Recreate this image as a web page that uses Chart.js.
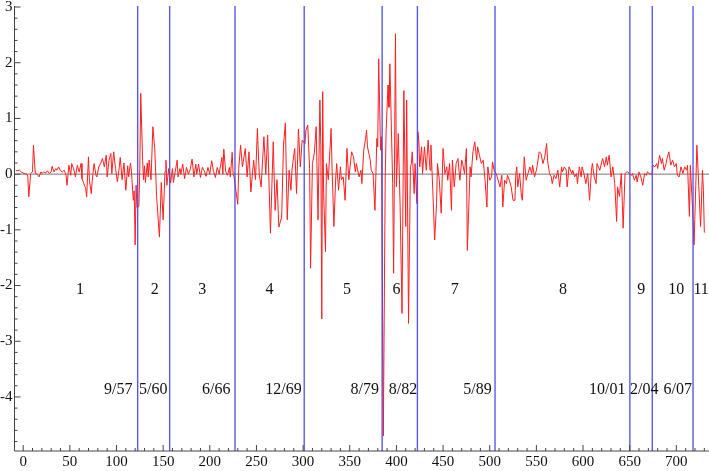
<!DOCTYPE html>
<html lang="en">
<head>
    <meta charset="UTF-8">
    <title>Growth series with breaks</title>
    <script src="https://cdn.jsdelivr.net/npm/chart.js"></script>
    <style>
        body { margin: 0; background: #fff; }
        canvas { display: block; }
    </style>
</head>
<body>
    <canvas id="growthChart" width="709" height="471"></canvas>

    <script>
        // month index (x) and value (y)
        const monthIdx = [
            -8,-6,-4,-2,1,4,5,6,8,10,11,13,15,17,19,20,22,24,26,28,30,31,33,35,36,38,40,42,44,46,47,49,51,52,54,56,58,60,62,63,65,67,68,70,71,73,74,76,78,79,81,83,85,87,89,90,92,94,95,97,99,
            101,103,104,106,108,110,112,113,115,116,118,119,120,121,122,124,125,126,128,129,130,131,133,134,135,137,139,141,143,146,148,150,152,153,154,156,158,160,161,163,165,166,168,169,171,173,175,177,179,181,183,185,186,188,190,192,194,196,198,200,
            202,204,206,208,210,211,213,214,215,217,219,221,222,224,225,226,228,230,231,233,235,238,240,242,244,247,249,251,253,255,258,260,262,265,268,270,272,274,277,279,281,283,285,287,288,291,293,295,297,299,
            302,303,305,307,308,310,312,314,316,318,319,320,321,322,324,325,327,330,331,333,335,336,338,340,341,343,345,347,349,351,352,354,356,357,360,362,363,365,367,368,369,372,373,375,377,379,380,381,383,384,386,388,389,391,392,393,396,397,399,400,
            402,404,406,408,410,411,413,415,416,417,419,420,422,423,424,425,427,428,430,432,434,436,437,439,441,443,444,446,448,450,452,454,455,457,459,460,462,464,466,468,470,471,473,475,476,479,480,482,484,486,487,489,491,493,495,497,498,500,
            502,503,505,507,509,511,513,514,516,518,519,521,523,525,527,528,529,530,532,534,535,537,539,541,543,545,546,548,550,551,553,555,557,559,561,562,564,566,567,569,571,573,575,577,578,580,582,583,585,588,589,591,593,594,596,598,599,
            601,603,605,607,609,610,612,614,615,618,620,621,623,625,626,628,630,632,634,636,637,639,641,642,643,645,647,648,650,652,653,655,657,658,660,662,664,666,668,669,671,674,675,677,679,680,682,684,685,687,689,690,692,694,696,698,700,
            701,703,705,707,709,711,712,714,715,717,719,721,722,724,726,728,729,730
        ];
        const growth = [
            0.07,0.06,0.07,0.04,0.01,0,-0.05,-0.41,0.01,0.04,0.52,0.01,0,-0.05,0.04,0.01,0.04,0.02,0.06,0.01,0.04,0.14,0.04,0.1,0.07,0.13,0.06,0.04,0.07,-0.02,-0.2,0.16,-0.02,0.19,0.1,-0.05,0.16,0.04,0.19,-0.08,-0.17,-0.26,-0.41,0.31,-0.11,-0.35,-0.11,0.19,-0.02,-0.05,0.13,0.19,0.28,0.13,0.34,-0.05,0.25,0.37,0.01,0.4,0.1,
            -0.14,0.13,0.3,-0.1,0.2,-0.29,0.15,-0.05,0.2,0.05,-0.47,-0.3,-1.27,-0.2,-0.6,-0.58,0.1,1.45,0.25,-0.1,0.15,-0.15,0.2,-0.05,0.25,-0.1,0.85,0.46,-0.4,-1.13,-0.15,-0.82,0.05,0.25,-0.2,0.1,-0.16,0.1,-0.15,0.05,0.25,-0.05,0.1,0,0.18,-0.08,0.12,0,0.08,0.27,-0.05,0.18,0,0.18,-0.06,0.12,0.06,-0.04,0.12,0,
            0.24,0.05,-0.06,0.12,0,0.1,0.3,0,0.45,0.05,-0.02,0.12,-0.05,0.39,0,-0.05,-0.3,-0.54,0.1,0.52,0.13,0.46,-0.05,0.4,-0.32,0.25,-0.1,0.82,0,-0.23,0.67,0,0.7,-1.06,0.58,-0.65,-0.1,-0.95,-0.77,0.52,0.92,-0.82,0.07,-0.29,0.07,0.46,-0.35,0.81,0.13,0.61,
            0.55,0.79,0.88,0.1,-1.69,0.19,0.37,0.85,-0.82,1.33,0.5,-2.6,1.48,-0.35,-1.39,0.19,-0.1,0.82,0.13,-0.94,-0.05,0.19,-0.29,0.13,-0.1,-0.05,-0.47,0.46,-0.1,0.25,0.4,0.31,0.04,0.19,-0.05,0.07,-0.17,0.43,0.64,0.79,0.49,0.25,0.07,0.01,-0.65,0.64,0.49,2.07,0.43,0.67,-4.7,-0.05,0.79,1.6,1.2,1.98,-0.17,-1.78,2.52,-0.23,
            0.73,-0.59,-2.5,1.5,-0.94,1.33,-2.68,0.13,0.19,0.4,-0.35,0.19,-0.53,0.76,0.61,0.13,0.49,0.01,0.49,0.07,0.61,0.07,0.52,-0.29,-1.18,-0.53,0.19,-0.11,-0.7,0.46,0.01,0.13,-0.11,0.19,-0.65,0.25,-0.23,0.19,0.28,-0.11,0.25,0.19,0.01,0.46,-1.37,0.13,-0.05,0.4,0.58,0.25,0.49,0.34,0.19,0.25,-0.11,-0.59,0.13,-0.11,
            -0.05,0.22,0.05,0.01,-0.11,-0.23,-0.02,-0.59,-0.11,-0.17,-0.02,-0.11,-0.23,-0.47,-0.47,0.01,0.13,-0.23,0.01,-0.4,-0.47,0.31,-0.11,0.01,0.13,0.01,0.16,-0.05,0.07,0.16,0.4,0.37,0.19,0.31,0.55,0.25,0.01,-0.05,-0.17,-0.02,-0.08,0.07,-0.23,0.13,0.04,0.13,0.07,-0.23,0.13,0.01,0.07,-0.05,0.01,-0.17,0.13,-0.05,0.13,
            0.01,-0.17,0.01,-0.47,0.07,0.19,-0.05,-0.17,0.19,0.07,0.22,0.28,0.13,0.31,0.16,0.34,-0.05,0.13,-0.17,-0.85,-0.23,-0.4,0.01,-0.47,-0.97,0.01,0.04,0.04,0,-0.02,0.01,-0.11,-0.02,-0.14,0.04,-0.05,-0.2,0.01,-0.02,0.04,0.01,0,0.16,0.13,0.19,0.1,0.34,0.19,0.28,0.07,0.19,0.28,0.4,0.16,0.25,0.13,0.19,
            -0.02,-0.05,0.13,0.01,0.13,0.07,0.16,-0.76,0.16,-0.5,-1.27,-0.11,0.52,-0.2,-0.94,0.07,-0.29,-1.05
        ];

        // break dates (vertical lines) and labels
        const breakX = [122.7, 157, 227, 301.2, 384.7, 422.5, 505.7, 650.2, 674.2, 717.9];
        const regimeLabels = ["1","2","3","4","5","6","7","8","9","10","11"];
        const regimeX = [61, 141, 192, 264, 347, 400, 462.5, 578.5, 662.4, 700, 726.6];
        const dateLabels = ["9/57","5/60","6/66","12/69","8/79","8/82","5/89","10/01","2/04","6/07"];
        const dateX = [101.9, 139.5, 207, 279, 366, 407, 487, 626, 665.6, 701.5];
        const xTicks = [0,50,100,150,200,250,300,350,400,450,500,550,600,650,700];
        const yTicks = [-4,-3,-2,-1,0,1,2,3];

        const points = monthIdx.map((m, i) => ({ x: m, y: growth[i] }));

        const decorPlugin = {
            id: "decor",
            beforeDatasetsDraw(chart) {
                const { ctx, chartArea, scales } = chart;
                const y0 = scales.y.getPixelForValue(0);
                ctx.save();
                ctx.strokeStyle = "#777";
                ctx.lineWidth = 1;
                ctx.beginPath();
                ctx.moveTo(chartArea.left, y0);
                ctx.lineTo(chartArea.right, y0);
                ctx.stroke();
                ctx.restore();
            },
            afterDatasetsDraw(chart) {
                const { ctx, chartArea, scales } = chart;
                const xs = scales.x, ys = scales.y;
                ctx.save();

                // break lines
                ctx.strokeStyle = "rgba(70,70,235,0.9)";
                ctx.lineWidth = 1.4;
                breakX.forEach(b => {
                    const px = xs.getPixelForValue(b);
                    ctx.beginPath();
                    ctx.moveTo(px, chartArea.top - 1);
                    ctx.lineTo(px, chartArea.bottom);
                    ctx.stroke();
                });

                // axes
                ctx.strokeStyle = "#444";
                ctx.lineWidth = 1;
                ctx.beginPath();
                ctx.moveTo(chartArea.left, chartArea.top - 1);
                ctx.lineTo(chartArea.left, chartArea.bottom);
                ctx.lineTo(chartArea.right, chartArea.bottom);
                ctx.stroke();

                // x ticks (inward)
                ctx.beginPath();
                for (let v = 0; v <= 730; v += 10) {
                    const px = xs.getPixelForValue(v);
                    const len = v % 50 === 0 ? 6 : 3;
                    ctx.moveTo(px, chartArea.bottom);
                    ctx.lineTo(px, chartArea.bottom - len);
                }
                // y ticks (inward)
                for (let k = -24; k <= 15; k++) {
                    const v = k / 5;
                    const py = ys.getPixelForValue(v);
                    const len = k % 5 === 0 ? 6 : 3;
                    ctx.moveTo(chartArea.left, py);
                    ctx.lineTo(chartArea.left + len, py);
                }
                ctx.stroke();

                // tick labels
                ctx.fillStyle = "#111";
                ctx.font = "15px 'Liberation Serif', serif";
                ctx.textAlign = "center";
                ctx.textBaseline = "top";
                xTicks.forEach(t => {
                    ctx.fillText(String(t), xs.getPixelForValue(t), chartArea.bottom + 4);
                });
                ctx.textAlign = "right";
                ctx.textBaseline = "middle";
                yTicks.forEach(t => {
                    ctx.fillText(String(t), chartArea.left - 2, ys.getPixelForValue(t));
                });

                // regime numbers and break dates
                ctx.font = "16px 'Liberation Serif', serif";
                ctx.textAlign = "center";
                regimeLabels.forEach((lab, i) => {
                    ctx.fillText(lab, xs.getPixelForValue(regimeX[i]), ys.getPixelForValue(-2.08));
                });
                dateLabels.forEach((lab, i) => {
                    ctx.fillText(lab, xs.getPixelForValue(dateX[i]), ys.getPixelForValue(-3.87));
                });
                ctx.restore();
            }
        };

        new Chart(document.getElementById("growthChart").getContext("2d"), {
            type: "line",
            data: {
                datasets: [{
                    data: points,
                    borderColor: "#ff1f1f",
                    borderWidth: 1,
                    pointRadius: 0,
                    tension: 0,
                    fill: false
                }]
            },
            options: {
                responsive: false,
                animation: false,
                layout: { padding: { left: 14.5, top: 7, right: 0, bottom: 20 } },
                plugins: {
                    legend: { display: false },
                    tooltip: { enabled: false }
                },
                scales: {
                    x: { type: "linear", min: -9.3, max: 735, display: false },
                    y: { min: -4.97, max: 3, display: false }
                }
            },
            plugins: [decorPlugin]
        });
    </script>
</body>
</html>
